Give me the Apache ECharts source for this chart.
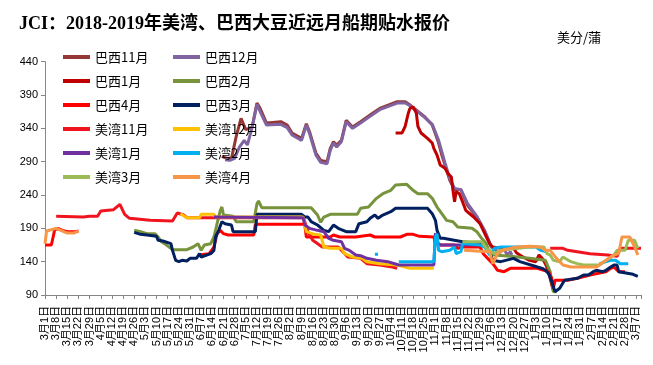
<!DOCTYPE html>
<html><head><meta charset="utf-8">
<script src="https://cdn.jsdelivr.net/npm/echarts@6/dist/echarts.min.js"></script>
<style>html,body{margin:0;padding:0;background:#fff}#c{width:653px;height:365px}</style>
</head><body><div id="c"></div>
<script>
// x values: days since 2018-03-01
const tickLabels = ['3月1日','3月8日','3月15日','3月22日','3月29日','4月5日','4月12日','4月19日','4月26日','5月3日','5月10日','5月17日','5月24日','5月31日','6月7日','6月14日','6月21日','6月28日','7月5日','7月12日','7月19日','7月26日','8月2日','8月9日','8月16日','8月23日','8月30日','9月6日','9月13日','9月20日','9月27日','10月4日','10月11日','10月18日','10月25日','11月1日','11月8日','11月15日','11月22日','11月29日','12月6日','12月13日','12月20日','12月27日','1月3日','1月10日','1月17日','1月24日','1月31日','2月7日','2月14日','2月21日','2月28日','3月7日'];
const seriesNames = ['巴西11月','巴西12月','巴西1月','巴西2月','巴西4月','巴西3月','美湾11月','美湾12月','美湾1月','美湾2月','美湾3月','美湾4月'];

const brazilNov = [[111,298],[114,295],[117,295],[120,328],[123,355],[126,338],[130,342],[133,378],[135,370],[139,348],[148,350],[152,345],[155,333],[161,325],[164,347],[166,335],[170,303],[173,292],[177,290],[179,310],[181,320],[183,315],[186,322],[189,352],[193,342],[198,350],[204,360],[210,370],[221,380],[226,380],[229,375],[238,358],[243,345],[247,318],[249,300],[251,285],[254,262],[257,248],[261,248],[265,225],[271,207],[276,185],[280,162],[283,157]];
const brazilDec = [[113,293],[116,292],[119,295],[122,312],[125,322],[127,315],[130,342],[133,376],[135,365],[139,345],[148,346],[152,341],[155,330],[161,322],[164,345],[166,332],[170,300],[173,289],[177,287],[179,307],[181,318],[183,312],[186,320],[189,350],[193,340],[198,348],[204,358],[210,368],[221,378],[226,378],[229,374],[238,357],[243,346],[247,322],[249,305],[251,288],[254,265],[257,250],[261,248],[265,228],[271,208],[276,186],[280,163],[283,157],[284,150],[286,155],[288,160],[290,150],[292,155],[293,150]];
const brazilJan = [[220,333],[224,333],[226,343],[228,363],[229,370],[231,372],[233,363],[234,343],[236,333],[240,325],[243,318],[244,310],[246,300],[248,285],[251,280],[253,272],[255,267],[256,247],[257,230],[258,245],[260,242],[262,230],[264,217],[266,213],[269,207],[273,197],[275,187],[277,177],[279,167],[281,162],[286,160],[290,160],[294,160],[296,153],[300,147],[304,142],[308,140],[310,150],[312,145],[314,137],[316,125],[318,105],[319,97]];
const brazilFeb = [[56,187],[60,185],[64,182],[69,182],[71,177],[73,170],[75,167],[80,158],[89,158],[93,162],[96,167],[98,157],[100,165],[104,167],[106,177],[108,197],[110,217],[111,222],[112,210],[118,208],[120,200],[131,200],[133,227],[134,231],[136,221],[167,221],[171,210],[173,199],[175,207],[179,211],[196,211],[198,220],[203,222],[208,235],[212,242],[217,247],[220,255],[227,256],[231,247],[234,242],[240,242],[243,235],[246,222],[249,212],[252,202],[256,200],[259,192],[268,190],[271,185],[274,175],[277,167],[279,152],[282,150],[292,148],[304,145],[314,142],[317,125],[319,95],[321,95]];
const brazilApr = [[0,165],[4,165],[6,187],[8,190],[11,187],[14,185],[19,185],[21,186],[50,'-'],[96,150],[97,147],[103,152],[106,162],[108,182],[110,187],[112,182],[115,180],[131,180],[132,196],[163,196],[164,177],[179,177],[181,180],[185,177],[195,177],[204,180],[207,177],[223,177],[227,181],[231,181],[235,178],[244,177],[245,167],[248,165],[257,165],[259,160],[262,162],[273,162],[275,152],[279,142],[281,137],[284,127],[288,125],[292,130],[309,130],[313,127],[316,125],[318,115],[319,100],[320,112],[328,112],[334,115],[342,120],[348,123],[352,125],[355,130],[357,132],[360,125],[364,125]];
const brazilMar = [[56,184],[60,181],[64,180],[70,178],[71,172],[74,171],[79,167],[80,157],[82,142],[84,140],[86,142],[89,141],[91,145],[95,145],[97,152],[98,147],[104,152],[106,157],[107,177],[109,187],[111,200],[113,197],[117,195],[118,185],[132,185],[133,211],[161,211],[163,207],[165,207],[167,200],[171,195],[175,187],[178,185],[181,195],[184,190],[189,185],[195,185],[197,197],[202,200],[204,205],[207,210],[209,205],[212,210],[217,215],[220,220],[240,220],[243,212],[245,202],[246,187],[248,175],[250,175],[262,170],[273,167],[276,162],[279,155],[281,142],[286,140],[294,145],[298,140],[309,132],[312,130],[314,127],[316,122],[318,110],[320,95],[321,97],[323,100],[326,112],[334,115],[338,120],[341,120],[344,125],[346,127],[350,125],[352,127],[355,132],[357,135],[359,135],[360,125],[361,122],[369,121],[372,118]];
const usNov = [[7,208],[24,207],[28,208],[33,208],[35,216],[43,218],[47,226],[50,211],[53,205],[66,202],[80,201],[83,213],[87,210],[89,206],[162,206],[163,200],[165,185],[168,172],[174,162],[184,162],[190,147],[198,145],[202,137],[210,135],[218,132],[221,130],[260,'-'],[317,160],[325,160],[328,157],[334,155],[342,152],[353,150],[359,148],[361,160],[374,160]];
const usDec = [[85,212],[89,206],[97,206],[98,211],[106,211],[107,207],[162,207],[164,185],[169,181],[173,180],[175,162],[179,160],[186,160],[188,152],[193,147],[199,145],[202,140],[210,137],[221,135],[229,130],[244,130]];
const usJan = [[106,207],[162,206],[163,195],[166,190],[171,187],[175,185],[178,175],[181,172],[186,170],[188,160],[191,157],[195,150],[198,149],[202,145],[208,142],[215,140],[222,135],[244,135],[245,183],[246,170],[248,165],[273,165]];
const usFeb = [[207,151],[209,151],[210,'-'],[222,140],[244,140],[245,177],[246,182],[247,157],[249,155],[254,157],[257,162],[258,152],[261,155],[262,167],[264,167],[273,165],[276,162],[279,150],[282,160],[286,162],[308,162],[311,157],[315,155],[330,'-'],[348,137],[355,142],[358,142],[361,137],[366,137]];
const usMar = [[262,170],[274,170],[277,160],[282,152],[286,157],[304,162],[313,162],[315,152],[317,150],[319,142],[323,140],[325,147],[330,140],[334,137],[338,135],[348,135],[357,150],[359,157],[364,157],[366,172],[370,172],[372,160]];
const usApr = [[0,167],[1,186],[7,190],[11,186],[14,183],[18,183],[21,186],[100,'-'],[263,157],[279,155],[281,137],[284,152],[288,158],[296,162],[304,163],[311,162],[314,157],[317,157],[321,145],[325,135],[330,132],[346,132],[352,142],[357,150],[360,152],[362,177],[367,177],[370,162],[372,150]];

const seriesData = [brazilNov, brazilDec, brazilJan, brazilFeb, brazilApr, brazilMar, usNov, usDec, usJan, usFeb, usMar, usApr];
const colors = ['#953735','#8064A2','#C00000','#77933C','#FF0000','#002060','#F0141E','#FFC000','#7030A0','#00B0F0','#9BBB59','#F79646'];

const chart = echarts.init(document.getElementById('c'), null, {renderer:'canvas'});
const legendBase = {orient:'vertical', top:45.5, itemWidth:27, itemHeight:4, itemGap:11, icon:'rect',
  textStyle:{fontSize:13, color:'#000', fontFamily:"'Noto Sans CJK SC', sans-serif"}};
chart.setOption({
  animation:false,
  textStyle:{fontFamily:"'Liberation Sans','Noto Sans CJK SC', sans-serif"},
  title:{text:'JCI：2018-2019年美湾、巴西大豆近远月船期贴水报价', left:14, top:10,
    textStyle:{fontSize:18, fontWeight:'bold', color:'#000', fontFamily:"'Liberation Serif','Noto Sans CJK SC', serif"}},
  graphic:[{type:'text', left:557, top:31, style:{text:'美分/蒲', fill:'#000', font:"13px 'Noto Sans CJK SC'"}}],
  legend:[
    Object.assign({}, legendBase, {left:58, data:[seriesNames[0],seriesNames[2],seriesNames[4],seriesNames[6],seriesNames[8],seriesNames[10]]}),
    Object.assign({}, legendBase, {left:168, data:[seriesNames[1],seriesNames[3],seriesNames[5],seriesNames[7],seriesNames[9],seriesNames[11]]})
  ],
  grid:{left:45, right:12, top:61.7, bottom:70, containLabel:false},
  xAxis:{type:'value', min:0, max:374, interval:7,
    axisLine:{lineStyle:{color:'#868686'}}, axisTick:{length:4, lineStyle:{color:'#868686'}},
    splitLine:{show:false},
    axisLabel:{rotate:90, fontSize:11, color:'#000', margin:11,
      formatter:function(v){ return (v % 7 === 0 && v/7 < tickLabels.length) ? tickLabels[v/7] : ''; }}},
  yAxis:{type:'value', min:90, max:440, interval:50,
    axisLine:{show:true, lineStyle:{color:'#868686'}}, axisTick:{show:true, length:4, lineStyle:{color:'#868686'}},
    splitLine:{show:false}, axisLabel:{fontSize:11, color:'#000', margin:7}},
  series: seriesNames.map((n,i)=>({name:n, type:'line', data:seriesData[i], color:colors[i],
    showSymbol:false, symbol:'none', connectNulls:false, lineStyle:{width:3, color:colors[i]}}))
});
</script></body></html>
